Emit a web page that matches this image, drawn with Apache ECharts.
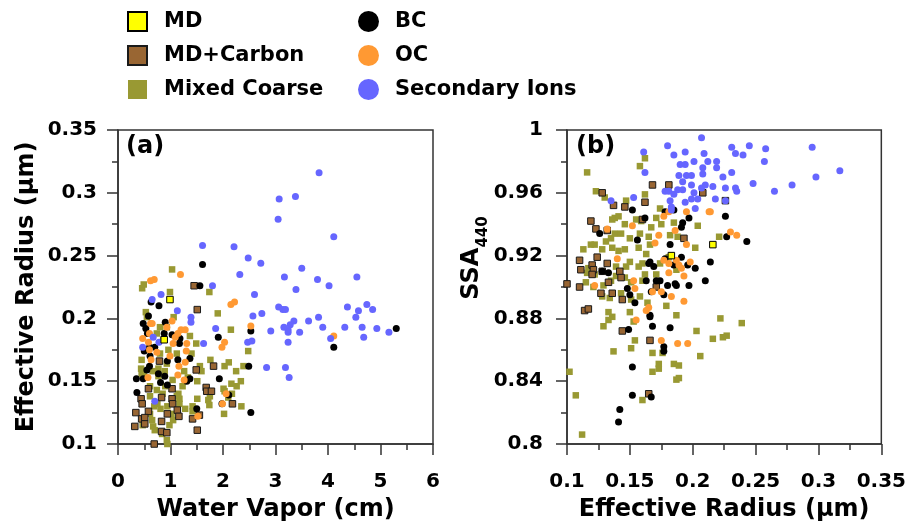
<!DOCTYPE html>
<html>
<head>
<meta charset="utf-8">
<script src="https://cdn.jsdelivr.net/npm/echarts@6/dist/echarts.min.js"></script>
<style>html,body{margin:0;padding:0;background:#fff;}#c{width:909px;height:529px;}</style>
</head>
<body>
<div id="c"></div>
<script>
// Panel (a): [water vapor (cm), effective radius (um)]
var aMD = [[0.99,0.215],[0.88,0.183]];
var aMDC = [[1.45,0.226],[1.51,0.207],[1.49,0.159],[1.82,0.162],[1.68,0.145],[1.69,0.142],[1.78,0.142],[2.18,0.132],[1.03,0.144],[1.03,0.136],[1.04,0.132],[1.13,0.127],[1.16,0.122],[0.94,0.124],[0.83,0.137],[0.83,0.118],[0.83,0.110],[0.93,0.109],[0.58,0.144],[0.44,0.136],[0.46,0.132],[0.34,0.125],[0.58,0.126],[0.45,0.120],[0.51,0.121],[0.51,0.116],[0.32,0.114],[0.69,0.100],[1.42,0.120],[1.51,0.111],[1.55,0.123],[0.79,0.166]];
var aMC = [[1.03,0.239],[0.46,0.224],[0.49,0.227],[0.99,0.221],[1.74,0.221],[1.90,0.204],[2.15,0.191],[0.53,0.205],[0.55,0.201],[1.06,0.201],[1.37,0.186],[1.49,0.180],[2.48,0.174],[1.76,0.167],[2.11,0.165],[2.03,0.162],[2.25,0.158],[2.39,0.162],[1.56,0.162],[1.59,0.158],[1.23,0.146],[1.51,0.150],[1.33,0.153],[2.34,0.150],[2.16,0.148],[2.26,0.146],[2.01,0.144],[2.03,0.142],[2.10,0.137],[2.17,0.140],[1.72,0.135],[1.74,0.131],[1.75,0.138],[1.51,0.136],[1.42,0.130],[1.42,0.126],[1.28,0.128],[2.35,0.130],[2.02,0.124],[1.17,0.136],[1.17,0.132],[1.12,0.138],[1.15,0.140],[0.85,0.140],[0.74,0.143],[0.61,0.146],[0.61,0.138],[0.69,0.130],[0.61,0.124],[0.65,0.119],[0.67,0.114],[0.70,0.111],[0.84,0.108],[0.93,0.103],[0.98,0.115],[0.47,0.115],[0.49,0.154],[0.45,0.156],[0.44,0.160],[0.77,0.154],[0.66,0.158],[0.77,0.160],[0.89,0.158],[0.93,0.164],[0.80,0.172],[0.86,0.183],[0.96,0.175],[0.74,0.188],[0.93,0.193],[0.80,0.193],[0.45,0.167],[1.12,0.172],[1.40,0.172],[1.26,0.158],[1.04,0.151],[1.02,0.124],[1.05,0.119],[0.81,0.128],[0.75,0.132],[0.94,0.130],[0.90,0.146],[0.94,0.100]];
var aBC = [[1.61,0.243],[1.56,0.226],[0.63,0.213],[0.78,0.210],[0.58,0.202],[0.48,0.196],[0.53,0.192],[0.90,0.197],[0.88,0.188],[0.56,0.188],[1.18,0.184],[1.91,0.185],[2.53,0.190],[4.11,0.177],[5.30,0.192],[0.50,0.174],[0.61,0.170],[0.94,0.166],[1.14,0.167],[1.37,0.168],[0.60,0.162],[0.35,0.152],[0.48,0.152],[0.89,0.154],[0.81,0.149],[0.94,0.147],[1.37,0.152],[1.93,0.152],[2.49,0.162],[0.36,0.141],[2.11,0.139],[1.98,0.132],[1.50,0.128],[2.53,0.125],[0.60,0.177],[0.70,0.177],[1.03,0.187],[1.17,0.180],[0.55,0.159],[0.77,0.156],[1.31,0.150]];
var aOC = [[0.62,0.230],[0.69,0.231],[1.19,0.235],[2.15,0.211],[2.22,0.213],[2.53,0.194],[2.03,0.181],[1.98,0.177],[4.11,0.186],[1.03,0.198],[0.93,0.193],[0.62,0.196],[0.65,0.196],[1.20,0.191],[1.28,0.191],[1.14,0.188],[1.09,0.185],[1.05,0.180],[0.60,0.188],[0.47,0.184],[0.58,0.181],[0.60,0.175],[0.74,0.173],[1.31,0.180],[1.30,0.174],[0.99,0.170],[0.63,0.167],[1.16,0.162],[1.28,0.165],[1.14,0.155],[1.26,0.151],[0.57,0.153],[2.06,0.140],[1.99,0.132],[1.52,0.122]];
var aSI = [[3.83,0.316],[3.07,0.295],[3.38,0.297],[3.05,0.279],[4.11,0.265],[1.61,0.258],[2.21,0.257],[2.48,0.248],[2.72,0.244],[2.32,0.235],[3.17,0.233],[3.50,0.240],[3.80,0.231],[4.02,0.226],[4.55,0.233],[1.80,0.226],[3.39,0.223],[2.60,0.219],[0.82,0.219],[0.65,0.215],[1.13,0.206],[1.39,0.201],[1.39,0.197],[1.86,0.192],[2.57,0.202],[2.74,0.204],[3.06,0.209],[3.14,0.207],[3.19,0.207],[3.35,0.198],[3.28,0.195],[3.16,0.193],[3.24,0.191],[3.24,0.189],[3.46,0.189],[3.63,0.198],[3.82,0.201],[3.90,0.193],[2.91,0.190],[2.47,0.181],[2.55,0.182],[3.24,0.181],[4.05,0.184],[4.32,0.193],[4.37,0.209],[4.58,0.206],[4.74,0.211],[4.85,0.207],[4.53,0.201],[4.65,0.193],[4.93,0.192],[5.16,0.189],[4.68,0.185],[1.63,0.180],[0.67,0.185],[0.47,0.177],[2.83,0.161],[3.19,0.161],[3.26,0.153],[0.70,0.134],[0.78,0.181]];

// Panel (b): [effective radius (um), SSA440]
var bMD = [[0.183,0.920],[0.216,0.927]];
var bMDC = [[0.168,0.965],[0.181,0.965],[0.128,0.960],[0.137,0.952],[0.146,0.951],[0.162,0.954],[0.160,0.943],[0.208,0.960],[0.226,0.955],[0.119,0.942],[0.123,0.937],[0.132,0.936],[0.193,0.931],[0.124,0.919],[0.110,0.917],[0.120,0.914],[0.111,0.911],[0.121,0.911],[0.120,0.908],[0.132,0.915],[0.128,0.910],[0.142,0.910],[0.143,0.906],[0.133,0.903],[0.100,0.902],[0.110,0.900],[0.127,0.896],[0.136,0.896],[0.144,0.892],[0.171,0.900],[0.114,0.885],[0.117,0.886],[0.144,0.872],[0.166,0.866],[0.165,0.832]];
var bMC = [[0.162,0.982],[0.158,0.977],[0.116,0.973],[0.123,0.961],[0.130,0.957],[0.162,0.959],[0.147,0.955],[0.174,0.950],[0.136,0.943],[0.138,0.944],[0.141,0.945],[0.146,0.940],[0.155,0.943],[0.159,0.942],[0.167,0.938],[0.171,0.944],[0.175,0.940],[0.185,0.941],[0.204,0.939],[0.221,0.932],[0.119,0.927],[0.122,0.927],[0.131,0.929],[0.135,0.931],[0.138,0.934],[0.143,0.934],[0.150,0.931],[0.158,0.934],[0.165,0.932],[0.182,0.933],[0.188,0.932],[0.202,0.925],[0.113,0.924],[0.128,0.924],[0.136,0.925],[0.141,0.923],[0.146,0.924],[0.157,0.925],[0.163,0.921],[0.166,0.927],[0.160,0.915],[0.174,0.915],[0.181,0.919],[0.117,0.912],[0.116,0.909],[0.122,0.908],[0.139,0.913],[0.147,0.913],[0.150,0.916],[0.157,0.913],[0.162,0.908],[0.171,0.908],[0.187,0.911],[0.115,0.903],[0.121,0.900],[0.129,0.901],[0.135,0.904],[0.139,0.907],[0.146,0.906],[0.151,0.903],[0.160,0.904],[0.128,0.894],[0.134,0.893],[0.143,0.896],[0.151,0.892],[0.158,0.894],[0.164,0.890],[0.179,0.888],[0.133,0.884],[0.136,0.881],[0.133,0.879],[0.129,0.875],[0.150,0.884],[0.153,0.878],[0.187,0.882],[0.222,0.880],[0.239,0.877],[0.203,0.872],[0.154,0.866],[0.151,0.861],[0.137,0.859],[0.168,0.858],[0.176,0.858],[0.216,0.867],[0.224,0.868],[0.227,0.869],[0.206,0.856],[0.185,0.851],[0.189,0.850],[0.173,0.851],[0.173,0.848],[0.168,0.846],[0.187,0.841],[0.189,0.842],[0.160,0.828],[0.102,0.846],[0.107,0.831],[0.112,0.806]];
var bBC = [[0.152,0.949],[0.162,0.944],[0.185,0.949],[0.178,0.948],[0.197,0.944],[0.192,0.941],[0.191,0.938],[0.226,0.945],[0.227,0.932],[0.243,0.929],[0.126,0.934],[0.156,0.930],[0.182,0.927],[0.191,0.919],[0.185,0.914],[0.178,0.918],[0.196,0.914],[0.202,0.912],[0.214,0.916],[0.166,0.916],[0.165,0.915],[0.169,0.913],[0.128,0.910],[0.133,0.909],[0.163,0.904],[0.171,0.904],[0.174,0.904],[0.180,0.901],[0.186,0.902],[0.187,0.901],[0.197,0.901],[0.210,0.904],[0.148,0.899],[0.150,0.895],[0.154,0.890],[0.167,0.897],[0.177,0.895],[0.166,0.882],[0.166,0.881],[0.168,0.875],[0.182,0.874],[0.149,0.873],[0.177,0.862],[0.177,0.859],[0.152,0.849],[0.152,0.831],[0.167,0.830],[0.142,0.822],[0.141,0.814]];
var bOC = [[0.195,0.948],[0.213,0.948],[0.214,0.948],[0.181,0.948],[0.177,0.945],[0.132,0.937],[0.152,0.939],[0.173,0.933],[0.186,0.936],[0.230,0.935],[0.235,0.933],[0.170,0.928],[0.195,0.927],[0.140,0.918],[0.177,0.917],[0.181,0.915],[0.187,0.917],[0.189,0.914],[0.191,0.912],[0.198,0.916],[0.181,0.909],[0.193,0.907],[0.153,0.904],[0.122,0.901],[0.154,0.899],[0.175,0.897],[0.168,0.897],[0.183,0.894],[0.193,0.891],[0.163,0.885],[0.165,0.887],[0.155,0.879],[0.175,0.866],[0.188,0.864],[0.196,0.864]];
var bSI = [[0.207,0.995],[0.180,0.990],[0.161,0.986],[0.194,0.986],[0.185,0.984],[0.209,0.985],[0.231,0.989],[0.234,0.985],[0.240,0.984],[0.245,0.990],[0.258,0.988],[0.257,0.980],[0.295,0.989],[0.298,0.970],[0.317,0.974],[0.279,0.965],[0.265,0.961],[0.248,0.966],[0.234,0.963],[0.235,0.961],[0.226,0.963],[0.224,0.970],[0.231,0.973],[0.219,0.976],[0.219,0.980],[0.212,0.980],[0.208,0.976],[0.201,0.980],[0.194,0.978],[0.190,0.978],[0.189,0.971],[0.195,0.971],[0.199,0.971],[0.208,0.972],[0.192,0.967],[0.188,0.962],[0.192,0.962],[0.199,0.965],[0.201,0.960],[0.199,0.956],[0.204,0.956],[0.194,0.954],[0.202,0.950],[0.207,0.963],[0.210,0.965],[0.216,0.964],[0.218,0.956],[0.178,0.961],[0.181,0.961],[0.185,0.959],[0.182,0.955],[0.183,0.951],[0.162,0.973],[0.153,0.957],[0.135,0.955],[0.183,0.949],[0.226,0.955]];

var squareNames = ['MD','MD+Carbon','Mixed Coarse'];
var circleNames = ['BC','OC','Secondary Ions'];

var FONT = 'DejaVu Sans';
var AX = '#333333';
var chart = echarts.init(document.getElementById('c'), null, {renderer:'canvas'});

function styleFor(name){
  switch(name){
    case 'MD': return {symbol:'rect', color:'#ffff00', border:'#000', bw:1};
    case 'MD+Carbon': return {symbol:'rect', color:'#996633', border:'#1a1a1a', bw:1};
    case 'Mixed Coarse': return {symbol:'rect', color:'#999933', border:'#999933', bw:0};
    case 'BC': return {symbol:'circle', color:'#000000', border:'#000', bw:0};
    case 'OC': return {symbol:'circle', color:'#ff9933', border:'#ff9933', bw:0};
    default: return {symbol:'circle', color:'#6666ff', border:'#6666ff', bw:0};
  }
}
function mk(name, data, idx){
  var s = styleFor(name);
  return {
    type:'scatter', name:name, data:data, xAxisIndex:idx, yAxisIndex:idx,
    symbol:s.symbol, symbolSize: s.symbol==='rect' ? 6.5 : 7,
    itemStyle:{color:s.color, borderColor:s.border, borderWidth:s.bw, opacity:1},
    emphasis:{disabled:true}, animation:false
  };
}
var order = [['Mixed Coarse',aMC,bMC],['MD+Carbon',aMDC,bMDC],['BC',aBC,bBC],['OC',aOC,bOC],['Secondary Ions',aSI,bSI],['MD',aMD,bMD]];
var series = [];
order.forEach(function(o){ series.push(mk(o[0],o[1],0)); series.push(mk(o[0],o[2],1)); });

function axisCommon(){
  return {
    axisLine:{show:true, onZero:false, lineStyle:{color:AX, width:1.5}},
    axisTick:{show:true, inside:false, length:11, lineStyle:{color:AX, width:1.5}},
    minorTick:{show:true, splitNumber:2, length:6, lineStyle:{color:AX, width:1.5}},
    splitLine:{show:false}, minorSplitLine:{show:false},
    axisLabel:{color:'#000', fontFamily:FONT, fontWeight:'bold', fontSize:20, margin:22},
    nameTextStyle:{color:'#000', fontFamily:FONT, fontWeight:'bold', fontSize:24},
    nameLocation:'middle',
    nameMoveOverlap:false
  };
}
function ax(extra){ var o = axisCommon(); for (var k in extra){ o[k]=extra[k]; } return o; }

var legendText = {color:'#000', fontFamily:FONT, fontWeight:'bold', fontSize:21};
var option = {
  backgroundColor:'#fff',
  animation:false,
  legend:[
    {data:squareNames.map(function(n){return {name:n, icon:'rect'};}),
     orient:'vertical', left:127, top:11, padding:0, itemWidth:19, itemHeight:19, itemGap:13,
     textStyle:Object.assign({padding:[0,0,0,12]}, legendText), selectedMode:false},
    {data:circleNames.map(function(n){return {name:n, icon:'circle'};}),
     orient:'vertical', left:358, top:11, padding:0, itemWidth:21, itemHeight:21, itemGap:13,
     textStyle:Object.assign({padding:[0,0,0,11]}, legendText), selectedMode:false}
  ],
  grid:[
    {left:118, top:130, width:315, height:314, show:true, borderColor:AX, borderWidth:1.5, backgroundColor:'transparent'},
    {left:567, top:130, width:315, height:314, show:true, borderColor:AX, borderWidth:1.5, backgroundColor:'transparent'}
  ],
  xAxis:[
    ax({type:'value', gridIndex:0, min:0, max:6, interval:1, name:'Water Vapor (cm)', nameGap:54,
        axisLabel:{color:'#000', fontFamily:FONT, fontWeight:'bold', fontSize:20, margin:28}}),
    ax({type:'value', gridIndex:1, min:0.1, max:0.35, interval:0.05, name:'Effective Radius (\u03bcm)', nameGap:54,
        axisLabel:{color:'#000', fontFamily:FONT, fontWeight:'bold', fontSize:20, margin:28}})
  ],
  yAxis:[
    ax({type:'value', gridIndex:0, min:0.1, max:0.35, interval:0.05, name:'Effective Radius (\u03bcm)', nameGap:79,
        axisLabel:{color:'#000', fontFamily:FONT, fontWeight:'bold', fontSize:20, margin:21}}),
    ax({type:'value', gridIndex:1, min:0.8, max:1.0, interval:0.04, name:'{m|SSA}{s|440}', nameGap:80,
        nameTextStyle:{color:'#000', fontFamily:FONT, fontWeight:'bold', fontSize:24, padding:[0,0,0,58],
          rich:{m:{fontFamily:FONT, fontWeight:'bold', fontSize:24, color:'#000', lineHeight:30},
                s:{fontFamily:FONT, fontWeight:'bold', fontSize:15, color:'#000', lineHeight:30, verticalAlign:'bottom', padding:[0,0,-4,0]}}},
        axisLabel:{color:'#000', fontFamily:FONT, fontWeight:'bold', fontSize:20, margin:24,
          formatter:function(v){ return String(Math.round(v*100)/100); }}})
  ],
  title:[
    {text:'(a)', left:126, top:135, padding:0, textStyle:{color:'#000', fontFamily:FONT, fontWeight:'bold', fontSize:24}},
    {text:'(b)', left:576, top:135, padding:0, textStyle:{color:'#000', fontFamily:FONT, fontWeight:'bold', fontSize:24}}
  ],
  series:series
};
chart.setOption(option);
</script>
</body>
</html>
